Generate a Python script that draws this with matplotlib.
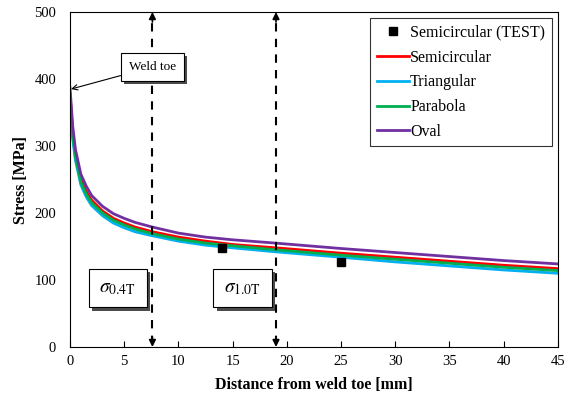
import numpy as np
import matplotlib
matplotlib.use('Agg')
import matplotlib.pyplot as plt
import matplotlib.patheffects as pe

plt.rcParams['font.family'] = ['Liberation Serif', 'DejaVu Serif']
plt.rcParams['mathtext.fontset'] = 'stix'

# distance from weld toe [mm]
dist = [0, 0.25, 0.5, 1, 1.5, 2, 3, 4, 5, 6, 7.6, 10, 12.5, 15, 19, 25, 30, 35, 40, 45]

oval = [387, 330, 295, 258, 240, 226, 210, 199, 192, 186, 179, 170, 164, 160, 155, 147, 141, 135, 129, 124]
semicircular = [378, 320, 287, 250, 232, 219, 203, 192, 185, 179, 172, 164, 158, 153, 148, 140, 134, 128, 122, 117]
parabola = [372, 315, 283, 246, 228, 215, 200, 189, 182, 176, 169, 161, 155, 151, 145, 137, 131, 125, 119, 114]
triangular = [368, 311, 279, 242, 224, 211, 196, 185, 178, 172, 166, 158, 152, 148, 142, 134, 127, 121, 115, 110]

test_x = [14, 25]
test_y = [148, 127]

# reference lines (0.4T and 1.0T, T = 19 mm)
ref_x = [7.6, 19.0]

fig = plt.figure(figsize=(5.71, 4.0), dpi=100)
ax = fig.add_axes([0.1226, 0.1325, 0.8545, 0.8375])

ax.plot(test_x, test_y, 's', color='black', ms=6, label='Semicircular (TEST)', zorder=5)
ax.plot(dist, semicircular, color='#ff0000', lw=2, label='Semicircular')
ax.plot(dist, triangular, color='#00b0f0', lw=2, label='Triangular')
ax.plot(dist, parabola, color='#00b050', lw=2, label='Parabola')
ax.plot(dist, oval, color='#7030a0', lw=2, label='Oval')

for xv in ref_x:
    ax.plot([xv, xv], [4, 496], color='black', lw=1.5, ls=(0, (4, 3.5)), zorder=3)
    ax.annotate('', xy=(xv, 500), xytext=(xv, 485),
                arrowprops=dict(arrowstyle='-|>', color='black', lw=1.2,
                                mutation_scale=10, shrinkA=0, shrinkB=0))
    ax.annotate('', xy=(xv, 0), xytext=(xv, 15),
                arrowprops=dict(arrowstyle='-|>', color='black', lw=1.2,
                                mutation_scale=10, shrinkA=0, shrinkB=0))

shadow = [pe.withSimplePatchShadow(offset=(2.5, -2.5), shadow_rgbFace='black', alpha=0.7)]

t = ax.annotate('Weld toe', xy=(0.1, 385), xytext=(7.6, 418), fontsize=9.5,
                ha='center', va='center',
                bbox=dict(boxstyle='square,pad=0.6', fc='white', ec='black', lw=0.8),
                arrowprops=dict(arrowstyle='->', color='black', lw=0.8, shrinkA=0, shrinkB=0),
                zorder=6)
t.get_bbox_patch().set_path_effects(shadow)

for xv, lab in [(4.4, r'$\sigma_{0.4\mathrm{T}}$'), (15.9, r'$\sigma_{1.0\mathrm{T}}$')]:
    s = ax.text(xv, 88, lab, fontsize=14, ha='center', va='center',
                bbox=dict(boxstyle='square,pad=0.55', fc='white', ec='black', lw=0.8),
                zorder=6)
    s.get_bbox_patch().set_path_effects(shadow)

ax.set_xlim(0, 45)
ax.set_ylim(0, 500)
ax.set_xticks(np.arange(0, 46, 5))
ax.set_yticks(np.arange(0, 501, 100))
ax.tick_params(axis='x', direction='in', length=4, labelsize=10.5, pad=6)
ax.tick_params(axis='y', length=0, labelsize=10.5, pad=10)
ax.set_xlabel('Distance from weld toe [mm]', fontsize=11.5, fontweight='bold', labelpad=6)
ax.set_ylabel('Stress [MPa]', fontsize=11.5, fontweight='bold', labelpad=4)

leg = ax.legend(loc='upper right', fontsize=11.5, frameon=True, fancybox=False,
                edgecolor='black', handlelength=2.0, handletextpad=0.1,
                borderpad=0.4, labelspacing=0.55, borderaxespad=0.4)
leg.get_frame().set_linewidth(0.8)

fig.savefig('out.png', dpi=100)
